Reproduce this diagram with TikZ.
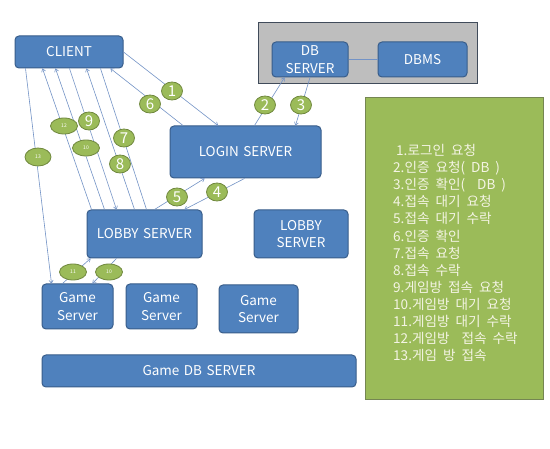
\documentclass[tikz,border=0pt]{standalone}
\usepackage{fontspec}
\setmainfont{Noto Sans CJK KR}
\usetikzlibrary{arrows.meta,shapes.geometric}
\definecolor{boxblue}{HTML}{4F81BD}
\definecolor{boxedge}{HTML}{385D8A}
\definecolor{olive}{HTML}{9BBB59}
\definecolor{oliveedge}{HTML}{71893F}
\definecolor{linkblue}{HTML}{7393C6}
\definecolor{grayfill}{HTML}{BEBEBE}
\definecolor{grayedge}{HTML}{404B5A}
\definecolor{cream}{HTML}{F4F4E4}
\newcommand\myboxfont{\fontsize{13.5}{17.5}\selectfont\spaceskip=4.5pt\relax}
\newcommand\mylegfont{\fontsize{13.6}{17.1}\selectfont\spaceskip=6pt\relax}
\tikzset{
  box/.style={draw=boxedge, fill=boxblue, line width=1pt, rounded corners=4pt,
    text=white, font=\myboxfont, align=center, inner sep=0pt},
  num/.style={ellipse, draw=oliveedge, fill=olive, line width=0.8pt, text=white,
    minimum width=21pt, minimum height=18pt, inner sep=0pt, font=\fontsize{15}{15}\selectfont},
  smallnum/.style={num, minimum width=27pt, minimum height=16pt, font=\fontsize{5}{5}\selectfont},
  link/.style={draw=linkblue, line width=0.6pt},
  arr/.style={link, -{To[length=3.5pt,width=4.5pt]}}
}
\begin{document}
\begin{tikzpicture}[x=1pt,y=-1pt]
\useasboundingbox (0,0) rectangle (550,449);
\fill[white] (0,0) rectangle (550,449);
% gray DB area
\draw[draw=grayedge, fill=grayfill, line width=1pt] (258,23) rectangle (477,84);
% legend box
\node[draw=oliveedge!70!gray, fill=olive, line width=1pt, minimum width=178pt, minimum height=302pt, inner sep=0pt] (legend) at (454,249) {};
\node[anchor=north west, text=cream, align=left, inner sep=0pt,
  font=\mylegfont] (legtext) at (393,144) {%
\hspace*{3pt}1.로그인 요청\\
2.인증 요청( DB )\\
3.인증 확인(\ \ DB )\\
4.접속 대기 요청\\
5.접속 대기 수락\\
6.인증 확인\\
7.접속 요청\\
8.접속 수락\\
9.게임방 접속 요청\\
10.게임방 대기 요청\\
11.게임방 대기 수락\\
12.게임방\ \ 접속 수락\\
13.게임 방 접속};
% boxes
\node[box, minimum width=108pt, minimum height=32pt] (client) at (69,52) {CLIENT};
\node[box, minimum width=151pt, minimum height=52pt] (login) at (245.5,152) {LOGIN SERVER};
\node[box, minimum width=115pt, minimum height=48pt] (lobby) at (144.5,234) {LOBBY SERVER};
\node[box, minimum width=94pt, minimum height=48pt] (lobby2) at (301,234) {LOBBY\\SERVER};
\node[box, minimum width=71pt, minimum height=45pt] (gs1) at (77.5,306.5) {Game\\Server};
\node[box, minimum width=71pt, minimum height=45pt] (gs2) at (161.5,306.5) {Game\\Server};
\node[box, minimum width=79pt, minimum height=48pt] (gs3) at (258.5,309) {Game\\Server};
\node[box, minimum width=314pt, minimum height=32pt] (gamedb) at (199,371) {Game DB SERVER};
\node[box, minimum width=76pt, minimum height=35pt] (dbs) at (310,59.5) {DB\\SERVER};
\node[box, minimum width=89pt, minimum height=35pt] (dbms) at (422.5,59.5) {DBMS};
% connectors
\draw[link] (dbs.east) -- (dbms.west);
\draw[arr] (client.east) -- ([xshift=-27.5pt]login.north);
\draw[arr] ([xshift=-62.5pt]login.north) -- ([xshift=-13pt]client.south east);
\draw[arr] ([xshift=11pt]client.south west) -- ([xshift=10pt]gs1.north west);
\draw[arr] ([xshift=5pt]lobby.north west) -- ([xshift=28pt]client.south west);
\draw[arr] ([xshift=18pt]lobby.north west) -- ([xshift=41pt]client.south west);
\draw[arr] ([xshift=55pt]client.south west) -- ([xshift=30pt]lobby.north west);
\draw[arr] ([xshift=48pt]lobby.north west) -- ([xshift=72pt]client.south west);
\draw[link] ([xshift=86pt]client.south west) -- ([xshift=60pt]lobby.north west);
\draw[arr] ([xshift=68pt]lobby.north west) -- ([xshift=35pt]login.south west);
\draw[arr] ([xshift=75pt]login.south west) -- ([xshift=98pt]lobby.north west);
\draw[arr] ([xshift=85pt]login.north west) -- ([xshift=13pt]dbs.south west);
\draw[arr] (dbs.south) -- ([xshift=126pt]login.north west);
\draw[arr] ([xshift=21pt]gs1.north west) -- ([xshift=4pt]lobby.south west);
\draw[arr] ([xshift=30pt]lobby.south west) -- ([xshift=51pt]gs1.north west);
% number labels
\node[num] (n1) at (172,91) {1};
\node[num] (n6) at (150,104) {6};
\node[num] (n9) at (89,121) {9};
\node[smallnum] (n12) at (64,126) {12};
\node[smallnum] (n10a) at (86,148) {10};
\node[num] (n7) at (124,138) {7};
\node[num] (n8) at (120,164) {8};
\node[smallnum, minimum width=26pt, minimum height=18pt] (n13) at (38,157) {13};
\node[num] (n5) at (177,197) {5};
\node[num] (n4) at (217,192) {4};
\node[num] (n2) at (265,105) {2};
\node[num] (n3) at (301,105) {3};
\node[smallnum] (n11) at (73,272) {11};
\node[smallnum] (n10b) at (109,272) {10};
\end{tikzpicture}
\end{document}
